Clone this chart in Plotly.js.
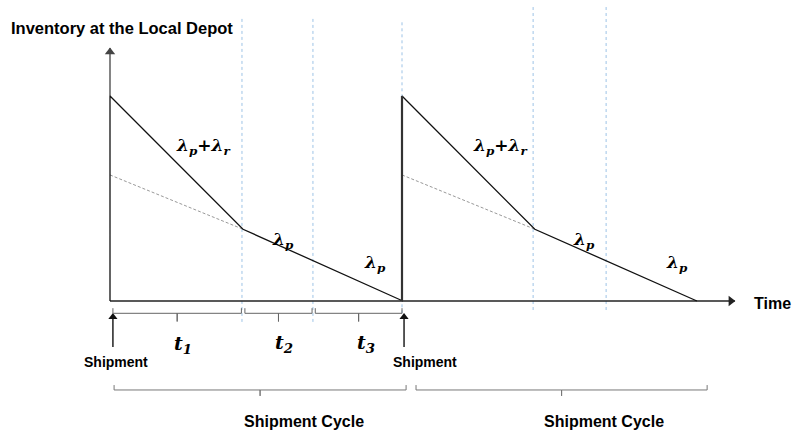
<!DOCTYPE html>
<html>
<head>
<meta charset="utf-8">
<script src="https://cdn.plot.ly/plotly-3.0.1.min.js"></script>
<style>html,body{margin:0;padding:0;background:#fff;}#chart{width:793px;height:433px;}</style>
</head>
<body>
<div id="chart"></div>
<script>
// ---- Data (time units: one shipment cycle = 10; inventory units: peak = 100) ----
const cycleStarts = [0, 10];
const peakInventory = 100;
const kneeTimes = [4.555, 14.55];
const kneeInventory = 35;
const emptyTimes = [10.03, 20.1];
const pickupOnlyStart = 61.5;            // dashed line start level (lambda_p only)
const markerTimes = [4.52, 6.95, 10.0, 14.49, 16.99];  // dotted blue guides
const markerTop = [138, 138, 136, 144.4, 144.4];
const markerBottom = [-10.2, -10.2, -6, -4.4, -4.4];
const phaseSpans = [[0.1, 4.5], [4.62, 6.92], [7.03, 10.0]];
const phaseLabels = ['t<sub>1</sub>', 't<sub>2</sub>', 't<sub>3</sub>'];
const cycleSpans = [[0.14, 10.14], [10.48, 20.45]];
const shipmentTimes = [0.1, 10.07];
const shipmentArrow = [-22.4, -5.9];
const axisEnd = {time: 21.4, inventory: 123.4};

// ---- pixel helpers for placing text ----
const X0 = 110, Y0 = 301, SX = 29.2, SY = 2.05;
const xOf = px => (px - X0) / SX;
const yOf = py => (Y0 - py) / SY;

const traces = [];
function line(x, y, color, width, dash) {
  traces.push({x: x, y: y, mode: 'lines', line: {color: color, width: width, dash: dash || 'solid'}, hoverinfo: 'skip'});
}
function head(x, y, symbol, color, size) {
  traces.push({x: [x], y: [y], mode: 'markers', marker: {symbol: symbol, size: size, color: color, line: {width: 0}}, hoverinfo: 'skip'});
}
// dotted blue guide lines
markerTimes.forEach((t, i) => line([t, t], [markerBottom[i], markerTop[i]], '#9dc3e6', 1, 'dot'));
// dashed pickup-only line
cycleStarts.forEach((s, i) => line([s, kneeTimes[i]], [pickupOnlyStart, kneeInventory], '#999', 1, '3px,2px'));
// axes
line([0, axisEnd.time], [0, 0], '#222', 1.6);
line([0, 0], [peakInventory, axisEnd.inventory], '#666', 1.6);
head(axisEnd.time - 4 / SX, 0, 'triangle-right', '#222', 9);
head(0, axisEnd.inventory - 4 / SY, 'triangle-up', '#444', 9);
// inventory saw-tooth
cycleStarts.forEach((s, i) => line([s, s, kneeTimes[i], emptyTimes[i]], [0, peakInventory, kneeInventory, 0], '#111', 1.3));
// second shipment thick vertical
line([cycleStarts[1], cycleStarts[1]], [0, peakInventory], '#333', 2.2);
// shipment arrows
shipmentTimes.forEach(t => {
  line([t, t], [shipmentArrow[0], shipmentArrow[1] - 3 / SY], '#111', 1.4);
  head(t, shipmentArrow[1] - 4 / SY, 'triangle-up', '#111', 8);
});
// phase brackets
const bY = -6, bUp = 2.5, bDn = 4;
phaseSpans.forEach(sp => {
  const m = (sp[0] + sp[1]) / 2;
  line([sp[0], sp[0], m, m, m, sp[1], sp[1]], [bY + bUp, bY, bY, bY - bDn, bY, bY, bY + bUp], '#666', 1);
});
// cycle brackets
const cY = -43.4, cUp = 2.4, cDn = 2.9;
cycleSpans.forEach(sp => {
  const m = (sp[0] + sp[1]) / 2;
  line([sp[0], sp[0], m, m, m, sp[1], sp[1]], [cY + cUp, cY, cY, cY - cDn, cY, cY, cY + cUp], '#777', 1);
});

const sans = 'Arial, "Liberation Sans", sans-serif';
const serif = '"DejaVu Serif", "Liberation Serif", serif';
const ann = [];
function txt(px, py, text, size, family, color) {
  ann.push({x: xOf(px), y: yOf(py), xref: 'x', yref: 'y', text: text, showarrow: false,
    font: {size: size, family: family, color: color || '#000'}});
}
txt(122, 28, '<b>Inventory at the Local Depot</b>', 16.5, sans);
txt(772, 303, '<b>Time</b>', 16, sans);
txt(116, 362, '<b>Shipment</b>', 14, sans);
txt(425, 362, '<b>Shipment</b>', 14, sans);
txt(304, 421, '<b>Shipment Cycle</b>', 16, sans);
txt(604, 421, '<b>Shipment Cycle</b>', 16, sans);
const lpr = '<b><i>λ<sub>p</sub></i>+<i>λ<sub>r</sub></i></b>';
const lp = '<b><i>λ<sub>p</sub></i></b>';
txt(203, 146, lpr, 17, serif);
txt(500, 146, lpr, 17, serif);
txt(283, 240, lp, 17, serif);
txt(375, 263, lp, 17, serif);
txt(584, 240, lp, 17, serif);
txt(677, 263, lp, 17, serif);
const tPx = [[183, 344], [284, 343], [366, 343]];
phaseLabels.forEach((l, i) => txt(tPx[i][0], tPx[i][1], '<b><i>' + l + '</i></b>', 19, serif));

const layout = {
  width: 793, height: 433,
  margin: {l: 0, r: 0, t: 0, b: 0, pad: 0},
  paper_bgcolor: '#fff', plot_bgcolor: '#fff',
  showlegend: false,
  xaxis: {visible: false, range: [xOf(0), xOf(793)], fixedrange: true},
  yaxis: {visible: false, range: [yOf(433), yOf(0)], fixedrange: true},
  annotations: ann
};
Plotly.newPlot('chart', traces, layout, {displayModeBar: false, staticPlot: true});
</script>
</body>
</html>
